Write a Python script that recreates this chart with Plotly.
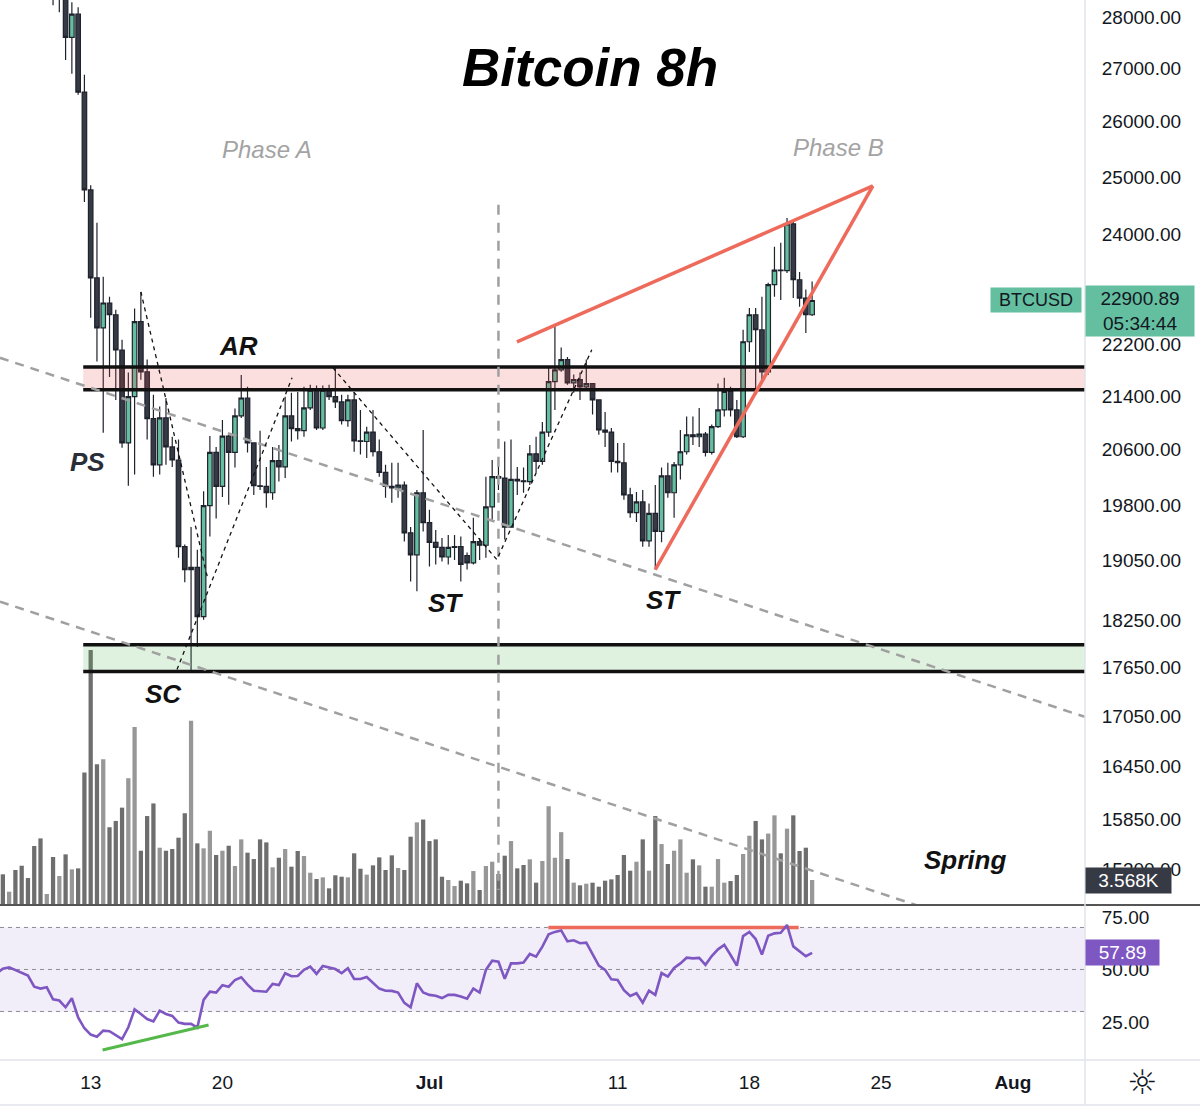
import math
import pandas as pd
import plotly.graph_objects as go

# ---------------- data (8h candles, BTCUSD) ----------------
times = pd.date_range("2022-06-08 00:00", periods=131, freq="8h")

opens = [31100, 30900, 30350, 30500, 30200, 30100, 30000, 29450, 29050,
         29200, 28650, 28800, 27600, 28060, 26550, 24770, 23270, 22460, 22860,
         22670, 22110, 20700, 21390, 22560, 21770, 21060, 20380, 21070, 20640,
         20450, 19230, 18920, 18950, 18300, 19800, 20560, 20070, 20800, 20560,
         21100, 21370, 20700, 20080, 20070, 19980, 20440, 20350, 21100, 20910,
         20880, 21220, 21490, 20920, 21490, 21390, 21310, 21030, 21340, 20730,
         20720, 20860, 20570, 20270, 20070, 20050, 20090, 19420, 19120, 19980,
         19560, 19290, 19220, 19090, 19220, 19230, 19110, 19010, 19300, 19250,
         19780, 20210, 20190, 19500, 20170, 20150, 20140, 20540, 20430, 20860,
         21620, 21800, 21960, 21600, 21650, 21540, 21590, 21340, 20890, 20860,
         20430, 20410, 19950, 19700, 19850, 19310, 19690, 19440, 20220, 19980,
         20380, 20570, 20820, 20790, 20830, 20560, 20940, 21190, 21470, 21190,
         20790, 22240, 22670, 22430, 21770, 23160, 23400, 23390, 24180, 23240,
         22940, 22670]
highs = [31350, 31000, 30650, 30550, 30300, 30200, 30100, 29600, 29300,
         29400, 28950, 28900, 28300, 28200, 26880, 24850, 24200, 23290, 22960,
         22750, 22270, 21760, 22770, 23040, 21960, 21420, 21240, 21370, 20790,
         20750, 19260, 19500, 19190, 20000, 20800, 20640, 21040, 20820, 21210,
         21720, 21540, 20710, 20880, 20350, 20640, 20670, 21390, 21450, 21460,
         21540, 21570, 21560, 21560, 21570, 21830, 21420, 21420, 21460, 21190,
         20940, 21190, 20750, 20380, 20410, 20410, 20140, 19500, 20020, 20890,
         19740, 19460, 19350, 19390, 19390, 19370, 19150, 19630, 19350, 20210,
         20450, 20450, 20720, 20750, 20350, 20340, 20670, 20790, 21010, 21830,
         22510, 22150, 22000, 21730, 21760, 21960, 21600, 21350, 21160, 20920,
         20700, 20700, 20050, 19990, 20020, 19830, 20090, 20340, 20410, 20420,
         20890, 21090, 21090, 21220, 20860, 20970, 21590, 21680, 21540, 21340,
         22430, 22780, 22780, 22960, 23190, 23790, 23860, 24280, 24220, 23370,
         23080, 23210]
lows = [30700, 30200, 30200, 30000, 29950, 29900, 29300, 28900, 28950,
        28240, 28100, 27160, 26900, 26500, 24560, 22620, 21930, 20850, 21690,
        21340, 20630, 20080, 20240, 21650, 20750, 20210, 20240, 20380, 20350,
        19080, 18750, 17600, 17910, 18260, 19370, 19620, 19920, 19810, 20340,
        21070, 20560, 19950, 20020, 19770, 19880, 20140, 20190, 20720, 20750,
        20790, 21190, 20890, 20890, 21340, 21220, 20970, 20940, 20570, 20530,
        20480, 20500, 20210, 19910, 19840, 19910, 19300, 18760, 18630, 19440,
        18960, 18990, 19030, 18990, 19050, 18760, 18920, 18990, 19050, 19080,
        19600, 20020, 19330, 19490, 19950, 19980, 20090, 20270, 20380, 20790,
        21190, 21770, 21570, 21450, 21340, 21490, 21120, 20820, 20640, 20270,
        20270, 19880, 19630, 19570, 19230, 19230, 18920, 19290, 19910, 19630,
        20170, 20530, 20670, 20640, 20500, 20530, 20920, 21090, 21090, 20770,
        20770, 22080, 21420, 21600, 21720, 22960, 22910, 23350, 22940, 22800,
        22380, 22650]
closes = [30900, 30350, 30500, 30200, 30100, 30000, 29450, 29050, 29200,
          28650, 28800, 27600, 28060, 26550, 24770, 23270, 22460, 22860, 22670,
          22110, 20700, 21390, 22560, 21770, 21060, 20380, 21070, 20640, 20450,
          19230, 18920, 18950, 18300, 19800, 20560, 20070, 20800, 20560, 21100,
          21370, 20700, 20080, 20070, 19980, 20440, 20350, 21100, 20910, 20880,
          21220, 21490, 20920, 21490, 21390, 21310, 21030, 21340, 20730, 20720,
          20860, 20570, 20270, 20070, 20050, 20090, 19420, 19120, 19980, 19560,
          19290, 19220, 19090, 19220, 19230, 18990, 19010, 19300, 19250, 19780,
          20210, 20190, 19500, 20170, 20150, 20140, 20540, 20430, 20860, 21620,
          21800, 21960, 21600, 21650, 21540, 21590, 21340, 20890, 20860, 20430,
          20410, 19950, 19700, 19850, 19310, 19690, 19440, 20220, 19980, 20380,
          20570, 20820, 20790, 20830, 20560, 20940, 21190, 21470, 21190, 20790,
          22240, 22670, 22430, 21770, 23160, 23400, 23390, 24180, 23240, 22940,
          22670, 22900.89]
volumes = [5000, 4380, 1900, 5000, 5610, 3850, 8420, 9510, 1570,
           6850, 4140, 7230, 5090, 5230, 18900, 36400, 20100, 20800, 11100,
           12000, 13900, 18100, 25400, 7750, 12700, 14500, 8180, 7750, 7990,
           9610, 13100, 26300, 8800, 8090, 10600, 7140, 7750, 8460, 5570,
           9370, 7470, 6560, 9370, 8940, 5380, 6750, 7990, 5470, 7710,
           6990, 4610, 3710, 3950, 2380, 4240, 4040, 3950, 7380, 5180,
           4330, 5660, 6800, 5000, 7090, 5280, 5000, 9750, 11800, 12200,
           9130, 9370, 4040, 3570, 2710, 3470, 3090, 4850, 2140, 5570,
           6180, 4420, 7040, 9130, 5230, 5710, 6520, 3190, 6280, 14100,
           6750, 10400, 6560, 3190, 2810, 3040, 3190, 2620, 3470, 3660,
           4280, 7140, 4900, 6180, 9370, 4900, 12700, 8700, 5850, 7750,
           9370, 4610, 6520, 5660, 2620, 2620, 6560, 3190, 3420, 4280,
           7280, 9890, 12000, 9370, 10200, 12800, 7380, 10900, 12800, 7710,
           8180, 3568]
rsi = [48.0, 50.4, 51.0, 49.8, 48.3, 47.1, 41.8, 40.9, 41.5,
       35.8, 35.2, 32.0, 36.3, 27.2, 22.0, 19.0, 18.0, 20.9, 20.6,
       18.7, 16.8, 22.5, 31.0, 28.8, 26.4, 25.3, 30.4, 28.8, 27.9,
       24.7, 24.1, 24.1, 22.3, 35.5, 39.4, 39.0, 42.5, 41.8, 45.0,
       46.3, 42.8, 39.9, 39.8, 39.4, 43.1, 42.6, 48.2, 46.8, 46.9,
       49.8, 51.4, 47.9, 51.7, 50.9, 50.2, 48.2, 50.6, 45.5, 45.5,
       46.4, 43.7, 40.9, 39.9, 39.8, 39.0, 34.1, 32.0, 43.4, 39.1,
       37.9, 37.5, 36.4, 37.9, 37.9, 37.1, 36.1, 40.9, 39.0, 49.8,
       54.2, 53.7, 45.6, 52.9, 52.9, 53.3, 57.4, 56.1, 60.9, 66.7,
       67.9, 68.6, 63.4, 63.9, 62.5, 62.8, 57.2, 51.8, 49.8, 45.3,
       45.0, 40.1, 37.4, 38.7, 34.2, 39.9, 37.9, 48.3, 46.6, 50.7,
       52.9, 55.6, 55.3, 55.5, 52.2, 56.4, 59.6, 61.7, 56.9, 51.8,
       65.9, 67.9, 64.5, 57.1, 66.1, 67.2, 67.5, 71.2, 61.0, 58.5,
       56.3, 57.89]

price_ticks = [28000, 27000, 26000, 25000, 24000, 22200, 21400, 20600, 19800,
               19050, 18250, 17650, 17050, 16450, 15850, 15300]
time_ticks = ["2022-06-13", "2022-06-20", "2022-07-01", "2022-07-11",
              "2022-07-18", "2022-07-25", "2022-08-01"]
time_labels = ["13", "20", "<b>Jul</b>", "11", "18", "25", "<b>Aug</b>"]
rsi_ticks = [25, 50, 75]

# drawings (time, price)
zone_start, zone_end = "2022-06-12 14:30", "2022-08-10 00:00"
resistance_zone = (21495, 21844)
support_zone = (17599, 17939)
trend_upper = [("2022-06-08 04:21", 21988), ("2022-08-04 20:00", 17042)]
trend_lower = [("2022-06-08 04:21", 18495), ("2022-08-04 20:00", 14332)]
phase_line = [("2022-07-04 16:00", 24509), ("2022-07-04 16:00", 15073)]
swing_paths = [
    [("2022-06-15 16:00", 23042), ("2022-06-19 05:35", 18785)],
    [("2022-06-17 14:04", 17624), ("2022-06-23 16:48", 21679)],
    [("2022-06-25 21:00", 21833), ("2022-07-04 14:00", 19054), ("2022-07-09 15:00", 22113)],
]
wedge_upper = [("2022-07-05 15:36", 22239), ("2022-07-24 13:30", 24842)]
wedge_lower = [("2022-07-13 00:00", 18919), ("2022-07-24 13:30", 24842)]
rsi_top_line = [("2022-07-07 07:40", 70), ("2022-07-20 14:50", 70)]
rsi_div_line = [("2022-06-13 15:10", 11.7), ("2022-06-19 06:20", 23.6)]

# ---------------- style ----------------
TEAL = "#63bf9f"
DARK = "#363a45"
EDGE = "#1e222d"
FONT = "Liberation Sans"
W, H = 1200, 1111
PLOT_W, PLOT_H = 1085, 1060
SPLIT = (PLOT_H - 905) / PLOT_H


def px(x):
    return x / PLOT_W


def py(y):
    return (PLOT_H - y) / PLOT_H


fig = go.Figure()

vol_colors = ["#979797" if c >= o else "#6e6e6e" for o, c in zip(opens, closes)]
fig.add_trace(go.Bar(x=times, y=volumes, marker_color=vol_colors, marker_line_width=0,
                     width=8 * 3600 * 1000 * 0.68, xaxis="x", yaxis="y"))

fig.add_trace(go.Candlestick(
    x=times, open=opens, high=highs, low=lows, close=closes, xaxis="x", yaxis="y2",
    increasing=dict(fillcolor=TEAL, line=dict(color=EDGE, width=1.2)),
    decreasing=dict(fillcolor=DARK, line=dict(color=EDGE, width=1.2)),
    whiskerwidth=0))


def seg(points, color, width, dash, yaxis="y2", fill=None, fillcolor=None):
    fig.add_trace(go.Scatter(x=[p[0] for p in points], y=[p[1] for p in points],
                             mode="lines", line=dict(color=color, width=width, dash=dash),
                             fill=fill, fillcolor=fillcolor, xaxis="x", yaxis=yaxis,
                             hoverinfo="skip"))


for (lo, hi), fc in [(resistance_zone, "rgba(235,80,80,0.18)"),
                     (support_zone, "rgba(76,175,80,0.18)")]:
    seg([(zone_start, lo), (zone_end, lo), (zone_end, hi), (zone_start, hi), (zone_start, lo)],
        "rgba(0,0,0,0)", 0, "solid", fill="toself", fillcolor=fc)
    seg([(zone_start, lo), (zone_end, lo)], "#111111", 3.5, "solid")
    seg([(zone_start, hi), (zone_end, hi)], "#111111", 3.5, "solid")

seg(trend_upper, "#a0a0a0", 2.5, "9px,7px")
seg(trend_lower, "#a0a0a0", 2.5, "9px,7px")
seg(phase_line, "#a0a0a0", 2.5, "10px,8px")
for path in swing_paths:
    seg(path, "#111111", 1.3, "4px,4px")
seg(wedge_upper, "#ee6b5c", 3.5, "solid")
seg(wedge_lower, "#ee6b5c", 3.5, "solid")

# RSI pane
seg(rsi_top_line, "#ee6b5c", 3.5, "solid", yaxis="y3")
fig.add_trace(go.Scatter(x=times, y=rsi, mode="lines", line=dict(color="#7e57c2", width=2.6),
                         xaxis="x", yaxis="y3", hoverinfo="skip"))
seg(rsi_div_line, "#55b84a", 3, "solid", yaxis="y3")

shapes = [
    dict(type="rect", xref="paper", yref="y3", x0=0, x1=1, y0=30, y1=70,
         fillcolor="rgba(126,87,194,0.1)", line=dict(width=0), layer="below"),
]
for lvl in (70, 50, 30):
    shapes.append(dict(type="line", xref="paper", yref="y3", x0=0, x1=1, y0=lvl, y1=lvl,
                       line=dict(color="#8a8d96", width=1, dash="4px,4px"), layer="below"))
shapes += [
    dict(type="line", xref="paper", yref="paper", x0=0, x1=W / PLOT_W, y0=SPLIT, y1=SPLIT,
         line=dict(color="#555555", width=2)),
    dict(type="line", xref="paper", yref="paper", x0=0, x1=W / PLOT_W, y0=0, y1=0,
         line=dict(color="#e0e3eb", width=1.5)),
    dict(type="line", xref="paper", yref="paper", x0=0, x1=W / PLOT_W, y0=py(1105), y1=py(1105),
         line=dict(color="#e0e3eb", width=1.5)),
    dict(type="line", xref="paper", yref="paper", x0=1, x1=1, y0=py(1105), y1=1,
         line=dict(color="#e0e3eb", width=1.5)),
]

annotations = [
    dict(text="<b><i>Bitcoin 8h</i></b>", x=px(590), y=py(68), font=dict(size=53, color="#000000")),
    dict(text="<i>Phase A</i>", x=px(267), y=py(150), font=dict(size=24, color="#a3a3a3")),
    dict(text="<i>Phase B</i>", x=px(838), y=py(148), font=dict(size=24, color="#a3a3a3")),
    dict(text="<b><i>AR</i></b>", x=px(238), y=py(346), font=dict(size=26, color="#111111")),
    dict(text="<b><i>PS</i></b>", x=px(87), y=py(462), font=dict(size=26, color="#2a2e39")),
    dict(text="<b><i>SC</i></b>", x=px(163), y=py(694), font=dict(size=26, color="#111111")),
    dict(text="<b><i>ST</i></b>", x=px(445), y=py(603), font=dict(size=26, color="#111111")),
    dict(text="<b><i>ST</i></b>", x=px(663), y=py(600), font=dict(size=26, color="#111111")),
    dict(text="<b><i>Spring</i></b>", x=px(965), y=py(860), font=dict(size=26, color="#111111")),
    dict(text="☼", x=px(1142), y=py(1082), font=dict(size=34, color="#131722", family="DejaVu Sans")),
]
for a in annotations:
    a.update(xref="paper", yref="paper", showarrow=False, xanchor="center", yanchor="middle")
    a.setdefault("font", {})
    a["font"].setdefault("family", FONT)

last = closes[-1]
annotations += [
    dict(xref="paper", yref="y2", x=1, y=math.log10(last), xanchor="left", yanchor="middle",
         yshift=-11, text=f"{last:.2f}<br>05:34:44", showarrow=False, bgcolor=TEAL,
         font=dict(size=19, color="#131722", family=FONT), width=104, borderpad=2, align="center"),
    dict(xref="paper", yref="y2", x=1, y=math.log10(last), xanchor="right", yanchor="middle",
         xshift=-3, text="BTCUSD", showarrow=False, bgcolor=TEAL,
         font=dict(size=18, color="#131722", family=FONT), width=86, borderpad=2),
    dict(xref="paper", yref="y", x=1, y=volumes[-1], xanchor="left", yanchor="middle",
         text=f"{volumes[-1] / 1000:.3f}K", showarrow=False, bgcolor="#363a45",
         font=dict(size=19, color="#ffffff", family=FONT), width=81, borderpad=2),
    dict(xref="paper", yref="y3", x=1, y=rsi[-1], xanchor="left", yanchor="middle",
         text=f"{rsi[-1]:.2f}", showarrow=False, bgcolor="#7e57c2",
         font=dict(size=19, color="#ffffff", family=FONT), width=69, borderpad=2),
]

tickfont = dict(size=19, color="#131722", family=FONT)
fig.update_layout(
    width=W, height=H, margin=dict(l=0, r=W - PLOT_W, t=0, b=H - PLOT_H),
    paper_bgcolor="white", plot_bgcolor="white", showlegend=False,
    boxgap=0.1, boxgroupgap=0.2,
    xaxis=dict(type="date", range=["2022-06-08 04:21", "2022-08-04 20:00"], anchor="y3",
               showgrid=False, zeroline=False, showline=False,
               rangeslider=dict(visible=False), tickvals=time_ticks, ticktext=time_labels,
               tickfont=tickfont, ticks="outside", ticklen=5, tickcolor="rgba(0,0,0,0)"),
    yaxis=dict(domain=[SPLIT, 1], range=[0, 129200], visible=False),
    yaxis2=dict(domain=[SPLIT, 1], overlaying="y", type="log", anchor="x", side="right",
                range=[math.log10(14913), math.log10(28343)], showgrid=False, zeroline=False,
                tickvals=price_ticks, ticktext=[f"{v:.2f}" for v in price_ticks],
                tickfont=tickfont, ticks="outside", ticklen=12, tickcolor="rgba(0,0,0,0)"),
    yaxis3=dict(domain=[0, SPLIT], range=[6.9, 80.7], anchor="x", side="right",
                showgrid=False, zeroline=False, tickvals=rsi_ticks,
                ticktext=[f"{v:.2f}" for v in rsi_ticks], tickfont=tickfont,
                ticks="outside", ticklen=12, tickcolor="rgba(0,0,0,0)"),
    shapes=shapes, annotations=annotations,
)

fig.write_html("out.html")
